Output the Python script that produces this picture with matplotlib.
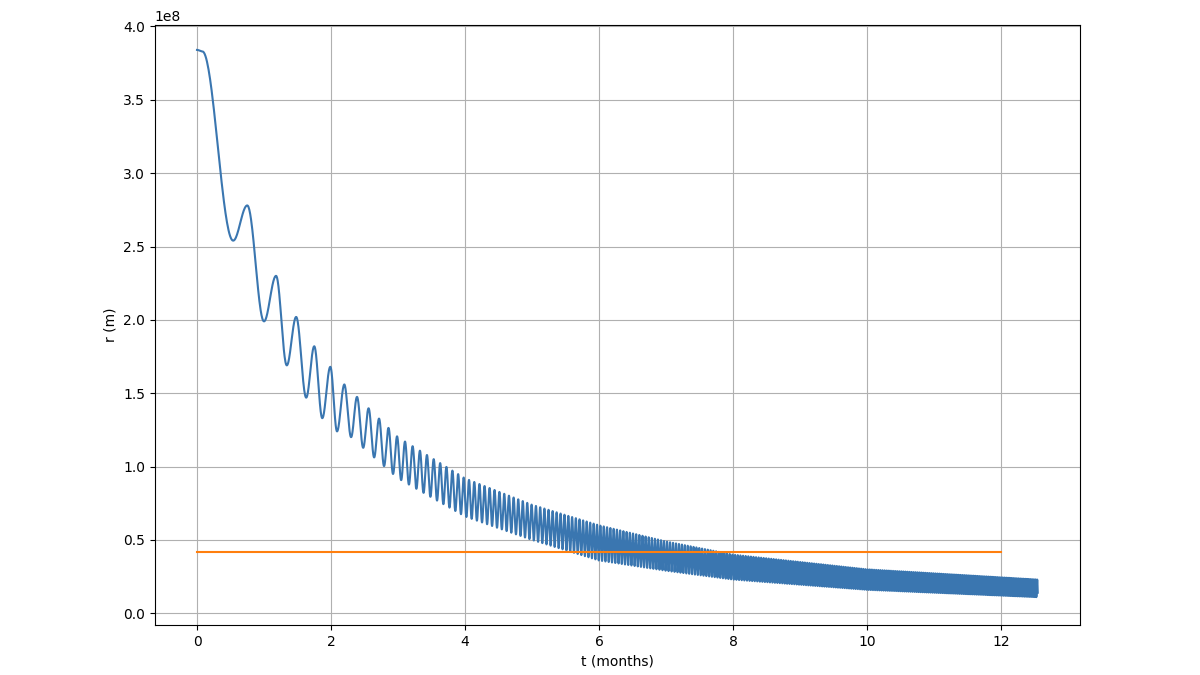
import numpy as np
import matplotlib
matplotlib.use('Agg')
import matplotlib.pyplot as plt

# early resolved extrema (t in months, r in 1e8 m)
ext_t = [0.0, 0.08, 0.54, 0.75, 1.0, 1.18, 1.34, 1.48, 1.63, 1.75, 1.87, 1.99, 2.09, 2.2]
ext_r = [3.84, 3.83, 2.54, 2.78, 1.99, 2.30, 1.69, 2.02, 1.47, 1.82, 1.33, 1.68, 1.24, 1.56]

# later dense part: envelope and local oscillation period
env_t = [2.2, 3.0, 4.0, 5.0, 6.0, 7.0, 8.0, 10.0, 12.55]
env_hi = [1.56, 1.20, 0.92, 0.74, 0.60, 0.49, 0.40, 0.30, 0.23]
env_lo = [1.24, 0.92, 0.66, 0.50, 0.36, 0.29, 0.23, 0.16, 0.11]
per_t = [2.2, 3.0, 4.0, 6.0, 9.0, 12.55]
per_v = [0.20, 0.12, 0.08, 0.05, 0.035, 0.025]

ref_t = [0.0, 12.0]
ref_r = [0.42, 0.42]

# build the curve: half-cosine between consecutive extrema
tt, rr = [], []
for i in range(len(ext_t) - 1):
    s = np.linspace(0, 1, 40, endpoint=False)
    tt.append(ext_t[i] + s * (ext_t[i + 1] - ext_t[i]))
    rr.append(ext_r[i] + (ext_r[i + 1] - ext_r[i]) * (1 - np.cos(np.pi * s)) / 2)
t = 2.2
phase = 0.0
dt = 0.0005
ts, ph = [], []
while t <= 12.55:
    ts.append(t); ph.append(phase)
    phase += 2 * np.pi * dt / np.interp(t, per_t, per_v)
    t += dt
ts = np.array(ts); ph = np.array(ph)
hi = np.interp(ts, env_t, env_hi); lo = np.interp(ts, env_t, env_lo)
tt.append(ts)
rr.append(lo + (hi - lo) * (1 + np.cos(ph)) / 2)
tt = np.concatenate(tt); rr = np.concatenate(rr)

fig = plt.figure(figsize=(12, 6.75), dpi=100)
ax = fig.add_axes([0.129, 0.074, 0.771, 0.889])
ax.plot(tt, rr * 1e8, color='#3a76b0', lw=1.5)
ax.plot(ref_t, np.array(ref_r) * 1e8, color='#ff7f0e', lw=1.5)
ax.set_xlabel('t (months)')
ax.set_ylabel('r (m)')
ax.set_ylim(-0.08e8, 4.01e8)
ax.set_xlim(-0.63, 13.18)
ax.grid(True)
fig.savefig('out.png')
